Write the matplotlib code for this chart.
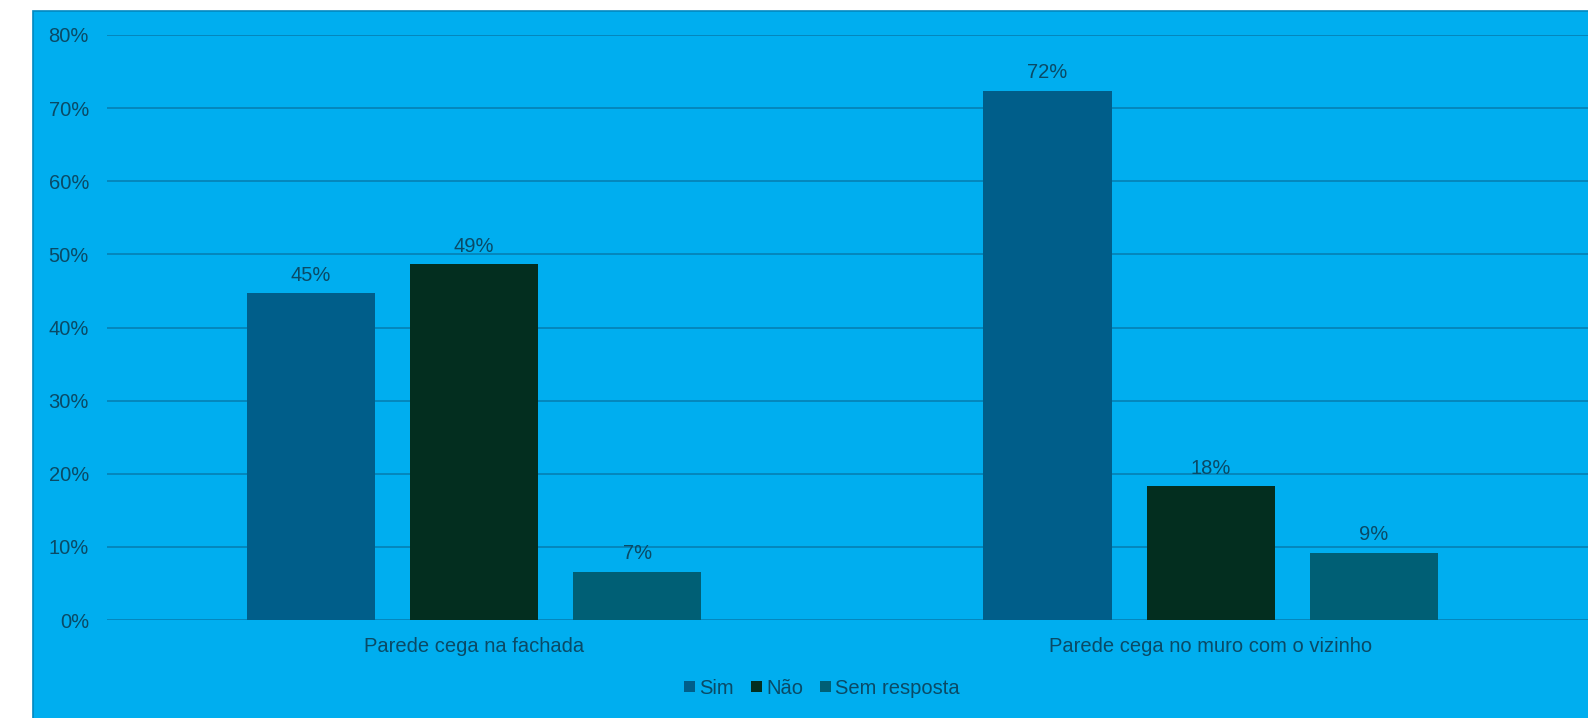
import matplotlib
matplotlib.use("Agg")
import matplotlib.pyplot as plt
from matplotlib.patches import Rectangle
import numpy as np

categories = ["Parede cega na fachada", "Parede cega no muro com o vizinho"]
series = ["Sim", "Não", "Sem resposta"]
sim = [44.7, 72.4]
nao = [48.7, 18.3]
sem = [6.6, 9.2]
yticks = [0, 10, 20, 30, 40, 50, 60, 70, 80]

colors = ["#005E8A", "#032E1F", "#005F75"]
bg = "#00AEEF"
txt = "#0A4A66"
grid = "#0680B3"
FS = 14.5
FAM = "Liberation Sans"

W, H = 1588, 718
fig = plt.figure(figsize=(W / 100, H / 100), dpi=100)
fig.patch.set_facecolor("white")
fig.patches.append(Rectangle((33 / W, -0.05), 1.1, 1.05 - 11 / H, transform=fig.transFigure,
                             facecolor=bg, edgecolor="#0288C0", linewidth=1.2, zorder=-5))

ax = fig.add_axes([107 / W, (H - 620) / H, (W - 107) / W, (620 - 35) / H])
ax.set_zorder(2)
ax.set_facecolor("none")
for s in ax.spines.values():
    s.set_visible(False)

x = np.arange(len(categories))
width = 0.174
pitch = 0.2215
for i, (vals, c, name) in enumerate(zip([sim, nao, sem], colors, series)):
    xs = x + (i - 1) * pitch
    ax.bar(xs, vals, width, color=c, label=name, zorder=3)
    for xi, v in zip(xs, vals):
        ax.annotate(f"{round(v):.0f}%", (xi, v), xytext=(0, 6), textcoords="offset points",
                    ha="center", va="bottom", fontsize=FS, color=txt, family=FAM)

ax.set_ylim(0, 80)
ax.set_yticks(yticks)
ax.set_yticklabels([f"{t}%" for t in yticks], fontsize=FS, color=txt, family=FAM)
ax.yaxis.grid(True, color=grid, linewidth=1.2, zorder=1)
ax.set_axisbelow(True)
ax.tick_params(axis="y", length=0, pad=13)
ax.tick_params(axis="x", length=0, pad=12)
ax.set_xticks(x)
ax.set_xticklabels(categories, fontsize=FS, color=txt, family=FAM)
ax.set_xlim(-0.498, 1.512)

leg = fig.legend(loc="center", bbox_to_anchor=(822 / W, (H - 688) / H), ncol=3, frameon=False,
                 handlelength=0.55, handleheight=0.45, handletextpad=0.2,
                 columnspacing=0.85, prop={"family": FAM, "size": FS})
for t in leg.get_texts():
    t.set_color(txt)

fig.savefig("out.png", dpi=100)
